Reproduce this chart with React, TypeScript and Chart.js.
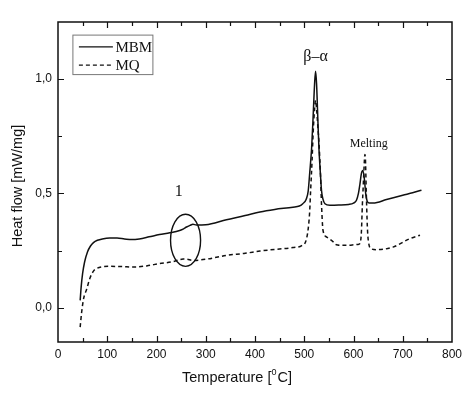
import React, { useEffect, useRef } from "react";
import { Chart, registerables } from "chart.js";
Chart.register(...registerables);

// ---- data ----
const mbmTemp = [45, 47, 50, 54, 60, 66, 72, 80, 90, 105, 120, 135, 150, 165, 185, 206, 227, 247, 255, 261, 268, 274, 281, 300, 342, 380, 410, 440, 477, 490, 497, 504, 508, 511, 515, 518, 521, 523, 525, 528, 530, 533, 535, 538, 542, 552, 570, 590, 600, 606, 610, 613, 616, 619, 622, 625, 628, 632, 640, 667, 700, 720, 738];
const mbmFlow = [0.032, 0.09, 0.15, 0.2, 0.245, 0.27, 0.285, 0.295, 0.301, 0.305, 0.305, 0.301, 0.298, 0.301, 0.31, 0.32, 0.328, 0.338, 0.345, 0.353, 0.36, 0.365, 0.362, 0.363, 0.385, 0.403, 0.419, 0.43, 0.44, 0.445, 0.455, 0.475, 0.51, 0.587, 0.7, 0.835, 0.98, 1.035, 0.98, 0.8, 0.689, 0.58, 0.514, 0.475, 0.455, 0.448, 0.449, 0.452, 0.458, 0.47, 0.5, 0.54, 0.587, 0.6, 0.565, 0.495, 0.465, 0.458, 0.458, 0.473, 0.492, 0.503, 0.514];

const mqTemp = [45, 48, 52, 58, 65, 72, 78, 90, 105, 130, 153, 180, 206, 230, 247, 254, 262, 274, 300, 342, 380, 410, 440, 477, 495, 503, 508, 511, 513, 516, 518, 521, 523, 525, 528, 530, 533, 535, 538, 545, 552, 558, 563, 568, 575, 585, 600, 609, 613, 616, 618, 620, 622, 623, 624, 626, 628, 630, 636, 646, 680, 714, 735];
const mqFlow = [-0.085, -0.02, 0.04, 0.08, 0.13, 0.16, 0.171, 0.179, 0.181, 0.18, 0.178, 0.183, 0.193, 0.2, 0.21, 0.213, 0.212, 0.207, 0.212, 0.229, 0.238, 0.248, 0.255, 0.263, 0.272, 0.29, 0.345, 0.42, 0.514, 0.65, 0.762, 0.87, 0.907, 0.87, 0.78, 0.718, 0.58, 0.455, 0.34, 0.31, 0.3, 0.29, 0.278, 0.274, 0.273, 0.273, 0.275, 0.277, 0.281, 0.33, 0.45, 0.543, 0.64, 0.67, 0.66, 0.5, 0.36, 0.295, 0.258, 0.254, 0.265, 0.302, 0.317];

const seriesNames = ["MBM", "MQ"];
const xRange = [0, 800];
const yRange = [-0.15, 1.25];
const xTitle = ["Temperature [", "0", "C]"];
const yTitle = "Heat flow [mW/mg]";

// annotations: [text, x, y]
const annoText = ["β–α", "Melting", "1"];
const annoX = [523, 631, 245];
const annoY = [1.096, 0.719, 0.505];
const ellipse = { x: 259, y: 0.295, rx: 30.5, ry: 0.114 };

const SANS = "'Liberation Sans', Arial, Helvetica, sans-serif";
const SERIF = "'Liberation Serif', 'Times New Roman', serif";
const INK = "#111";

const decor = {
  id: "decor",
  afterDraw(chart: any) {
    const { ctx, chartArea: a, scales } = chart;
    const xs = scales.x, ys = scales.y;
    ctx.save();
    ctx.strokeStyle = INK;
    ctx.fillStyle = INK;
    // frame
    ctx.lineWidth = 1.5;
    ctx.strokeRect(a.left, a.top, a.right - a.left, a.bottom - a.top);
    // inward ticks
    ctx.lineWidth = 1.2;
    ctx.beginPath();
    xs.ticks.forEach((t: any) => {
      const v = t.value;
      if (v <= xs.min || v >= xs.max) return;
      const p = Math.round(xs.getPixelForValue(v)) + 0.5;
      const len = v % 100 === 0 ? 6 : 4;
      ctx.moveTo(p, a.bottom); ctx.lineTo(p, a.bottom - len);
      ctx.moveTo(p, a.top); ctx.lineTo(p, a.top + len);
    });
    ys.ticks.forEach((t: any) => {
      const v = t.value;
      if (v <= ys.min || v >= ys.max) return;
      const p = Math.round(ys.getPixelForValue(v)) + 0.5;
      const major = Math.abs(v * 2 - Math.round(v * 2)) < 1e-6;
      const len = major ? 6 : 4;
      ctx.moveTo(a.left, p); ctx.lineTo(a.left + len, p);
      ctx.moveTo(a.right, p); ctx.lineTo(a.right - len, p);
    });
    ctx.stroke();

    // legend
    const lx = a.left + 14.4, ly = a.top + 12.6;
    ctx.strokeStyle = "#777";
    ctx.lineWidth = 1;
    ctx.strokeRect(lx + 0.5, ly + 0.5, 80, 39.5);
    ctx.strokeStyle = INK;
    ctx.font = `15px ${SERIF}`;
    ctx.textBaseline = "middle";
    ctx.textAlign = "left";
    const rows = [ly + 12.3, ly + 30.5];
    chart.data.datasets.forEach((ds: any, i: number) => {
      ctx.lineWidth = 1.4;
      ctx.setLineDash(ds.borderDash || []);
      ctx.beginPath();
      ctx.moveTo(lx + 6.5, rows[i]);
      ctx.lineTo(lx + 40.5, rows[i]);
      ctx.stroke();
      ctx.setLineDash([]);
      ctx.fillText(seriesNames[i], lx + 43, rows[i] + 1);
    });

    // annotations
    ctx.textAlign = "center";
    const sizes = [16, 12, 16];
    annoText.forEach((t, i) => {
      ctx.font = `${sizes[i]}px ${SERIF}`;
      ctx.fillText(t, xs.getPixelForValue(annoX[i]), ys.getPixelForValue(annoY[i]));
    });
    // ellipse
    const cx = xs.getPixelForValue(ellipse.x), cy = ys.getPixelForValue(ellipse.y);
    const rx = Math.abs(xs.getPixelForValue(ellipse.x + ellipse.rx) - cx);
    const ry = Math.abs(ys.getPixelForValue(ellipse.y + ellipse.ry) - cy);
    ctx.lineWidth = 1.4;
    ctx.beginPath();
    ctx.ellipse(cx, cy, rx, ry, 0, 0, Math.PI * 2);
    ctx.stroke();

    // x title with superscript
    const fBig = `14.5px ${SANS}`, fSmall = `9px ${SANS}`;
    ctx.font = fBig;
    const w1 = ctx.measureText(xTitle[0]).width;
    const w3 = ctx.measureText(xTitle[2]).width;
    ctx.font = fSmall;
    const w2 = ctx.measureText(xTitle[1]).width;
    const total = w1 + w2 + 1 + w3;
    let tx = chart.width / 2 - total / 2;
    const ty = 378;
    ctx.textAlign = "left";
    ctx.font = fBig;
    ctx.fillText(xTitle[0], tx, ty);
    tx += w1;
    ctx.font = fSmall;
    ctx.fillText(xTitle[1], tx, ty - 5);
    tx += w2 + 1;
    ctx.font = fBig;
    ctx.fillText(xTitle[2], tx, ty);

    // y title
    ctx.translate(18, 186);
    ctx.rotate(-Math.PI / 2);
    ctx.textAlign = "center";
    ctx.font = fBig;
    ctx.fillText(yTitle, 0, 0);
    ctx.restore();
  },
};

export default function App() {
  const ref = useRef<HTMLCanvasElement>(null);
  useEffect(() => {
    document.body.style.margin = "0";
    const chart = new Chart(ref.current!, {
      type: "line",
      data: {
        datasets: [
          {
            label: seriesNames[0],
            data: mbmTemp.map((x, i) => ({ x, y: mbmFlow[i] })),
            borderColor: INK,
            borderWidth: 1.5,
            pointRadius: 0,
            fill: false,
            cubicInterpolationMode: "monotone",
          },
          {
            label: seriesNames[1],
            data: mqTemp.map((x, i) => ({ x, y: mqFlow[i] })),
            borderColor: INK,
            borderWidth: 1.5,
            borderDash: [4, 3],
            pointRadius: 0,
            fill: false,
            cubicInterpolationMode: "monotone",
          },
        ],
      },
      options: {
        responsive: false,
        animation: false,
        devicePixelRatio: 1,
        layout: { padding: { left: 0, right: 22, top: 22, bottom: 0 } },
        plugins: { legend: { display: false }, tooltip: { enabled: false } },
        scales: {
          x: {
            type: "linear",
            min: xRange[0],
            max: xRange[1],
            grid: { display: false, drawTicks: false },
            border: { display: false },
            ticks: {
              stepSize: 50,
              autoSkip: false,
              maxRotation: 0,
              padding: 5,
              color: INK,
              font: { family: SANS, size: 12 },
              callback: (v: any) => (Number(v) % 100 === 0 ? String(v) : ""),
            },
            afterFit: (s: any) => { s.height = 55; },
          },
          y: {
            type: "linear",
            min: yRange[0],
            max: yRange[1],
            grid: { display: false, drawTicks: false },
            border: { display: false },
            ticks: {
              stepSize: 0.25,
              includeBounds: false,
              autoSkip: false,
              padding: 6,
              color: INK,
              font: { family: SANS, size: 12 },
              callback: (v: any) => {
                const n = Number(v);
                return Math.abs(n * 2 - Math.round(n * 2)) < 1e-6 ? n.toFixed(1).replace(".", ",") : "";
              },
            },
            afterFit: (s: any) => { s.width = 58; },
          },
        },
      } as any,
      plugins: [decor],
    });
    return () => chart.destroy();
  }, []);
  return (
    <div style={{ position: "fixed", left: 0, top: 0, width: 474, height: 397, background: "#fff" }}>
      <canvas ref={ref} width={474} height={397} style={{ width: 474, height: 397, display: "block" }} />
    </div>
  );
}
